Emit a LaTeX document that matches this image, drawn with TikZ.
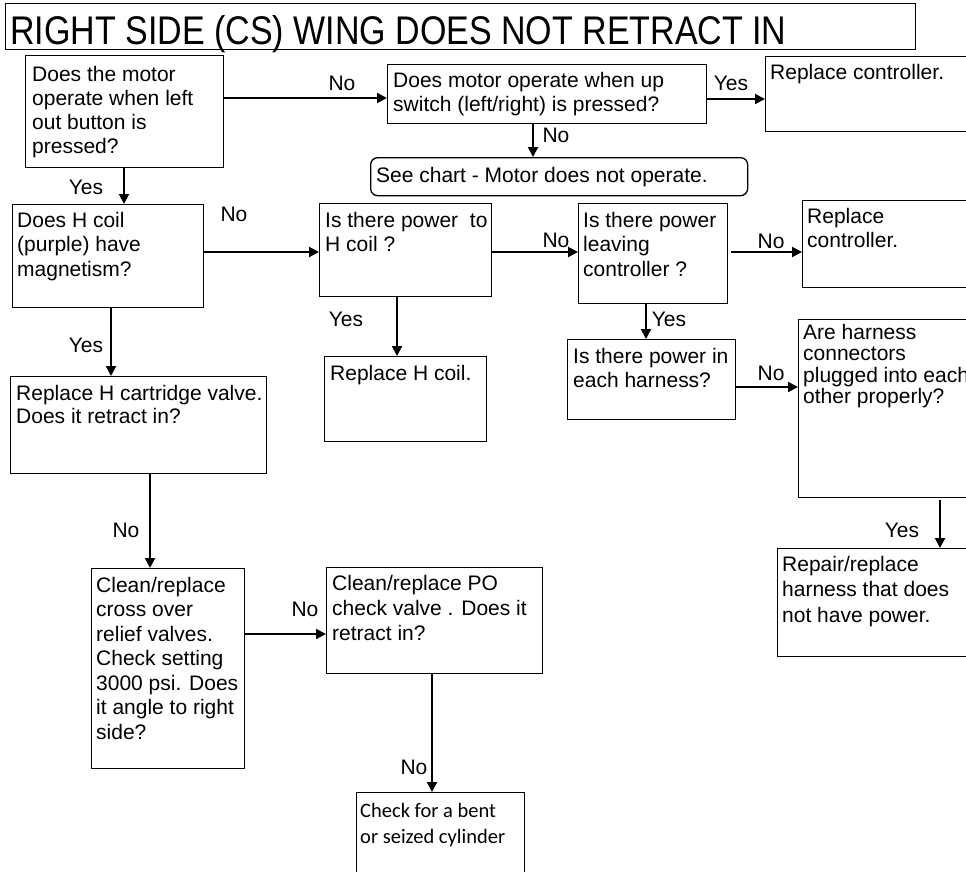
\documentclass[tikz,border=0pt]{standalone}
\usepackage{fontspec}
\setmainfont{Liberation Sans}
\newfontfamily\calibrilike{Carlito}
\usetikzlibrary{arrows.meta}
% a block of left-aligned lines whose baseline is that of the first line
\newcommand\lns[1]{\begin{tabular}[t]{@{}l@{}}#1\end{tabular}}

\begin{document}
\begin{tikzpicture}[x=1pt, y=-1pt,
  box/.style={draw, rectangle, line width=1.3pt, anchor=north west, inner sep=0pt},
  rbox/.style={box, rounded corners=7pt},
  txt/.style={anchor=base west, inner sep=0pt, font=\fontsize{21}{24.5}\selectfont},
  lbl/.style={inner sep=0pt, font=\fontsize{21}{24.5}\selectfont},
  arr/.style={line width=2pt, -{Triangle[length=10pt,width=10pt]}}]

\useasboundingbox (0,0) rectangle (966,871);
\clip (0,0) rectangle (966,871);

% title
\node[box, minimum width=910pt, minimum height=46pt] (title) at (5,3) {};
\node[anchor=base west, inner sep=0pt, font=\fontsize{40}{46}\selectfont] (titletext)
  at ([shift={(5,41)}]title.north west)
  {\scalebox{0.85}[1]{RIGHT SIDE (CS) WING DOES NOT RETRACT IN}};

% boxes
\node[box, minimum width=198pt, minimum height=112pt] (b1) at (25,55) {};
\node[box, minimum width=319pt, minimum height=59pt] (bup) at (387,64) {};
\node[box, minimum width=220pt, minimum height=75pt] (ctl1) at (765,56) {};
\node[rbox, minimum width=377pt, minimum height=38pt] (see) at (370,157) {};
\node[box, minimum width=191pt, minimum height=103pt] (b2) at (12,204) {};
\node[box, minimum width=172pt, minimum height=93pt] (b3) at (319,203) {};
\node[box, minimum width=149pt, minimum height=100pt] (b4) at (578,203) {};
\node[box, minimum width=200pt, minimum height=87pt] (b5) at (802,200) {};
\node[box, minimum width=162pt, minimum height=85pt] (b6) at (324,356) {};
\node[box, minimum width=168pt, minimum height=80pt] (b7) at (567,339) {};
\node[box, minimum width=200pt, minimum height=178pt] (b8) at (798,319) {};
\node[box, minimum width=220pt, minimum height=108pt] (b9) at (777,548) {};
\node[box, minimum width=256pt, minimum height=97pt] (b10) at (10,376) {};
\node[box, minimum width=153pt, minimum height=200pt] (b11) at (91,568) {};
\node[box, minimum width=216pt, minimum height=106pt] (b12) at (326,567) {};
\node[box, minimum width=168pt, minimum height=120pt] (b13) at (356,792) {};

% box texts
\node[txt, font=\fontsize{21}{24}\selectfont] (t1) at ([shift={(7,26)}]b1.north west)
  {\lns{Does the motor\\operate when left\\out button is\\pressed?}};
\node[txt] (tup) at ([shift={(6,23)}]bup.north west)
  {\lns{Does motor operate when up\\switch (left/right) is pressed?}};
\node[txt] (tctl1) at ([shift={(5,23)}]ctl1.north west) {Replace controller.};
\node[txt] (tsee) at ([shift={(6,25)}]see.north west) {See chart - Motor does not operate.};
\node[txt] (t2) at ([shift={(5,23)}]b2.north west)
  {\lns{Does H coil\\(purple) have\\magnetism?}};
\node[txt] (t3) at ([shift={(6,24)}]b3.north west)
  {\lns{Is there power\ \ to\\H coil ?}};
\node[txt] (t4) at ([shift={(5,24)}]b4.north west)
  {\lns{Is there power\\leaving\\controller ?}};
\node[txt] (t5) at ([shift={(5,23)}]b5.north west)
  {\lns{Replace\\controller.}};
\node[txt] (t6) at ([shift={(6,24)}]b6.north west) {Replace H coil.};
\node[txt] (t7) at ([shift={(6,24)}]b7.north west)
  {\lns{Is there power in\\each harness?}};
\node[txt, font=\fontsize{21}{21.5}\selectfont] (t8) at ([shift={(5,20)}]b8.north west)
  {\lns{Are harness\\connectors\\plugged into each\\other properly?}};
\node[txt, font=\fontsize{21}{25.5}\selectfont] (t9) at ([shift={(5,23)}]b9.north west)
  {\lns{Repair/replace\\harness that does\\not have power.}};
\node[txt, font=\fontsize{21}{23.5}\selectfont] (t10) at ([shift={(6,24)}]b10.north west)
  {\lns{Replace H cartridge valve.\\Does it retract in?}};
\node[txt] (t11) at ([shift={(5,24)}]b11.north west)
  {\lns{Clean/replace\\cross over\\relief valves.\\Check setting\\3000 psi. Does\\it angle to right\\side?}};
\node[txt, font=\fontsize{21}{25}\selectfont] (t12) at ([shift={(6,23)}]b12.north west)
  {\lns{Clean/replace PO\\check valve . Does it\\retract in?}};
\node[txt, font=\calibrilike\fontsize{20.5}{26}\selectfont] (t13) at ([shift={(4,25)}]b13.north west)
  {\lns{Check for a bent\\or seized cylinder}};

% connector start points
\coordinate (a1) at ([shift={(0,43)}]b1.north east);
\coordinate (a2) at ([shift={(0,35)}]bup.north east);
\coordinate (a3) at ([shift={(146,0)}]bup.south west);
\coordinate (a4) at ([shift={(99,0)}]b1.south west);
\coordinate (a5) at ([shift={(0,48)}]b2.north east);
\coordinate (a6) at ([shift={(0,49)}]b3.north east);
\coordinate (a7) at ([shift={(3,49)}]b4.north east);
\coordinate (a8) at ([shift={(78,0)}]b3.south west);
\coordinate (a9) at ([shift={(68,0)}]b4.south west);
\coordinate (a10) at ([shift={(0,48)}]b7.north east);
\coordinate (a11) at ([shift={(142,2)}]b8.south west);
\coordinate (a12) at ([shift={(99,0)}]b2.south west);
\coordinate (a13) at ([shift={(140,0)}]b10.south west);
\coordinate (a14) at ([shift={(0,66)}]b11.north east);
\coordinate (a15) at ([shift={(106,0)}]b12.south west);

% connectors
\draw[arr] (a1) -- (a1 -| bup.west);
\draw[arr] (a2) -- (a2 -| ctl1.west);
\draw[arr] (a3) -- (a3 |- see.north);
\draw[arr] (a4) -- (a4 |- b2.north);
\draw[arr] (a5) -- (a5 -| b3.west);
\draw[arr] (a6) -- (a6 -| b4.west);
\draw[arr] (a7) -- (a7 -| b5.west);
\draw[arr] (a8) -- (a8 |- b6.north);
\draw[arr] (a9) -- (a9 |- b7.north);
\draw[arr] (a10) -- (a10 -| b8.west);
\draw[arr] (a11) -- (a11 |- b9.north);
\draw[arr] (a12) -- (a12 |- b10.north);
\draw[arr] (a13) -- (a13 |- b11.north);
\draw[arr] (a14) -- (a14 -| b12.west);
\draw[arr] (a15) -- (a15 |- b13.north);

% connector labels
\node[lbl] (l1) at (342,83) {No};
\node[lbl] (l2) at (731,83) {Yes};
\node[lbl] (l3) at (556,135) {No};
\node[lbl] (l4) at (86,187) {Yes};
\node[lbl] (l5) at (234,214) {No};
\node[lbl] (l6) at (556,240) {No};
\node[lbl] (l7) at (771,241) {No};
\node[lbl] (l8) at (346,319) {Yes};
\node[lbl] (l9) at (669,319) {Yes};
\node[lbl] (l10) at (771,373) {No};
\node[lbl] (l11) at (902,530) {Yes};
\node[lbl] (l12) at (86,345) {Yes};
\node[lbl] (l13) at (126,530) {No};
\node[lbl] (l14) at (305,609) {No};
\node[lbl] (l15) at (414,767) {No};
\end{tikzpicture}
\end{document}
